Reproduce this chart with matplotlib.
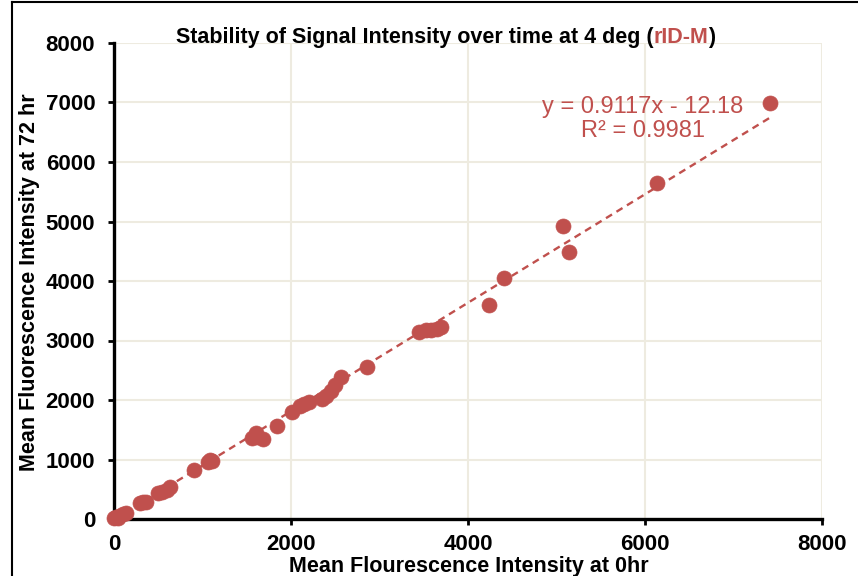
import matplotlib.pyplot as plt
from matplotlib.lines import Line2D

# mean intensity at 0 hr and 72 hr
x_0hr = [0, 20, 40, 60, 100, 130, 290, 330, 360, 500, 540, 600, 630, 900,
         1060, 1090, 1110, 1560, 1600, 1620, 1680, 1840, 2010, 2100, 2150,
         2200, 2350, 2400, 2450, 2500, 2560, 2860, 3450, 3520, 3580, 3650,
         3700, 4240, 4410, 5070, 5140, 6140, 7410]
y_72hr = [10, 30, 20, 50, 80, 100, 270, 290, 280, 430, 450, 480, 530, 820,
          960, 1000, 980, 1360, 1450, 1380, 1350, 1560, 1790, 1900, 1940,
          1960, 2020, 2060, 2150, 2260, 2390, 2550, 3150, 3170, 3180, 3200,
          3230, 3600, 4050, 4930, 4490, 5640, 6990]
slope, intercept = 0.9117, -12.18
ticks = [0, 2000, 4000, 6000, 8000]
yticks = [0, 1000, 2000, 3000, 4000, 5000, 6000, 7000, 8000]

red = "#C0504D"
plt.rcParams["font.family"] = "Liberation Sans"

fig = plt.figure(figsize=(8.58, 5.76), dpi=100)
ax = fig.add_axes([114 / 858, 1 - 519 / 576, 708 / 858, 476 / 576])

# trendline
xs = [min(x_0hr), max(x_0hr)]
ax.plot(xs, [slope * v + intercept for v in xs], color=red, lw=1.7,
        dashes=(3, 2.2), zorder=3)
ax.plot(x_0hr, y_72hr, "o", color=red, ms=10.8, mec=red, mew=0.5,
        zorder=4, clip_on=False)

ax.set_xlim(0, 8000)
ax.set_ylim(0, 8000)
ax.set_xticks(ticks)
ax.set_yticks(yticks)
ax.grid(True, color="#EEEBE0", lw=1.5)
ax.set_axisbelow(True)
for s in ["top", "right"]:
    ax.spines[s].set_visible(False)
for s in ["left", "bottom"]:
    ax.spines[s].set_linewidth(2.4)
ax.tick_params(width=2, length=4.5, labelsize=16)
ax.tick_params(axis="x", pad=6)
ax.tick_params(axis="y", pad=9)
for lab in ax.get_xticklabels() + ax.get_yticklabels():
    lab.set_fontweight("bold")

ax.set_xlabel("Mean Flourescence Intensity at 0hr", fontsize=15.5,
              fontweight="bold", va="center")
ax.xaxis.set_label_coords(0.501, -0.099)
ax.set_ylabel("Mean Fluorescence Intensity at 72 hr", fontsize=15.5,
              fontweight="bold", va="center")
ax.yaxis.set_label_coords(-0.119, 0.498)

ax.text(0.747, 0.84, "y = 0.9117x - 12.18\nR² = 0.9981", transform=ax.transAxes,
        color=red, fontsize=17, ha="center", va="center", linespacing=1.15)

# title in three pieces so rID-M can be red
ty = 1 - 43 / 576
t1 = fig.text(176 / 858, ty, "Stability of Signal Intensity over time at 4 deg (",
              fontsize=15.5, fontweight="bold", va="baseline")
fig.canvas.draw()
bb = t1.get_window_extent().transformed(fig.transFigure.inverted())
t2 = fig.text(bb.x1, ty, "rID-M", fontsize=15.5, fontweight="bold",
              color=red, va="baseline")
fig.canvas.draw()
bb2 = t2.get_window_extent().transformed(fig.transFigure.inverted())
fig.text(bb2.x1, ty, ")", fontsize=15.5, fontweight="bold", va="baseline")

# frame lines at left and top
fig.add_artist(Line2D([12 / 858, 12 / 858], [0, 1 - 2 / 576], color="black", lw=1.5))
fig.add_artist(Line2D([12 / 858, 1], [1 - 2 / 576, 1 - 2 / 576], color="black", lw=1.5))

fig.savefig("out.png", dpi=100)
